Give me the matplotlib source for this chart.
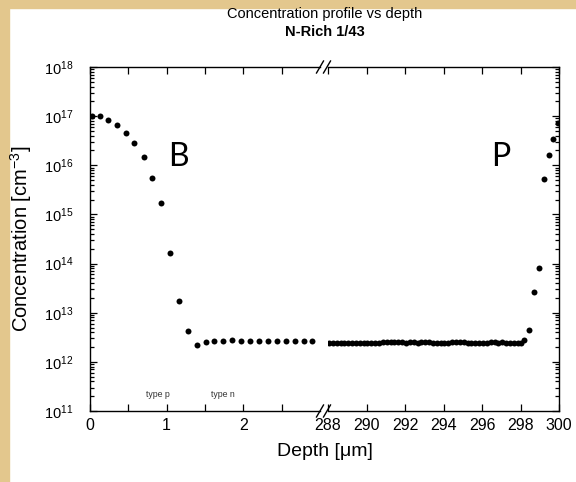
import matplotlib
matplotlib.use("Agg")
import matplotlib.pyplot as plt
from matplotlib.lines import Line2D
from matplotlib.patches import Rectangle
from matplotlib.ticker import LogLocator, NullFormatter, MultipleLocator, FixedLocator

plt.rcParams['font.family'] = ['Liberation Sans', 'DejaVu Sans']
plt.rcParams['mathtext.fontset'] = 'custom'
plt.rcParams['mathtext.rm'] = 'Liberation Sans'
plt.rcParams['mathtext.it'] = 'Liberation Sans:italic'
plt.rcParams['mathtext.bf'] = 'Liberation Sans:bold'

# boron side (front surface), depth in um, concentration in cm^-3
depth_b = [0.02, 0.13, 0.235, 0.35, 0.47, 0.58, 0.70, 0.81, 0.93, 1.047,
           1.16, 1.28, 1.39, 1.51, 1.62, 1.74, 1.855, 1.97, 2.09, 2.20,
           2.32, 2.44, 2.555, 2.67, 2.79, 2.90]
conc_b = [1.0e17, 1.0e17, 8.3e16, 6.6e16, 4.5e16, 2.9e16, 1.5e16, 5.6e15, 1.7e15, 1.66e14,
          1.74e13, 4.3e12, 2.2e12, 2.5e12, 2.7e12, 2.7e12, 2.75e12, 2.7e12, 2.7e12, 2.6e12,
          2.6e12, 2.6e12, 2.6e12, 2.6e12, 2.7e12, 2.6e12]

# phosphorus side (back surface)
depth_p = [288.05, 288.25, 288.45, 288.65, 288.85, 289.05, 289.25, 289.45, 289.65, 289.85,
           290.05, 290.25, 290.45, 290.65, 290.85, 291.05, 291.25, 291.45, 291.65, 291.85,
           292.05, 292.25, 292.45, 292.65, 292.85, 293.05, 293.25, 293.45, 293.65, 293.85,
           294.05, 294.25, 294.45, 294.65, 294.85, 295.05, 295.25, 295.45, 295.65, 295.85,
           296.05, 296.25, 296.45, 296.65, 296.85, 297.05, 297.25, 297.45, 297.65, 297.85,
           298.05, 298.2, 298.44, 298.69, 298.95, 299.2, 299.46, 299.7, 299.93]
conc_p = [2.45e12, 2.45e12, 2.45e12, 2.45e12, 2.45e12, 2.42e12, 2.45e12, 2.42e12, 2.45e12, 2.42e12,
          2.45e12, 2.45e12, 2.45e12, 2.45e12, 2.48e12, 2.48e12, 2.5e12, 2.55e12, 2.5e12, 2.48e12,
          2.42e12, 2.5e12, 2.52e12, 2.42e12, 2.55e12, 2.55e12, 2.48e12, 2.45e12, 2.45e12, 2.45e12,
          2.42e12, 2.45e12, 2.52e12, 2.55e12, 2.52e12, 2.48e12, 2.45e12, 2.42e12, 2.42e12, 2.45e12,
          2.45e12, 2.45e12, 2.48e12, 2.5e12, 2.45e12, 2.48e12, 2.42e12, 2.42e12, 2.45e12, 2.42e12,
          2.42e12, 2.8e12, 4.5e12, 2.6e13, 8.0e13, 5.2e15, 1.6e16, 3.4e16, 7.4e16]

W, H = 576, 482
fig = plt.figure(figsize=(W / 100, H / 100), dpi=100, facecolor='white')

# parchment strip on top and left edges
fig.add_artist(Rectangle((0, 1 - 8 / H), 1, 8 / H, transform=fig.transFigure,
                         color='#e3c78d', zorder=-5))
fig.add_artist(Rectangle((0, 0), 9 / W, 1, transform=fig.transFigure,
                         color='#e3c78d', zorder=-5))

bot = (H - 411) / H
hgt = (411 - 67) / H
ax1 = fig.add_axes([90 / W, bot, (320 - 90) / W, hgt])
ax2 = fig.add_axes([328 / W, bot, (559 - 328) / W, hgt], sharey=ax1)

for ax in (ax1, ax2):
    ax.set_facecolor('none')
    ax.plot(depth_b if ax is ax1 else depth_p, conc_b if ax is ax1 else conc_p,
            'o', color='black', markersize=4.3, markeredgewidth=0)
    for s in ax.spines.values():
        s.set_linewidth(1.0)
    ax.tick_params(which='both', direction='in', width=0.9)
    ax.tick_params(which='major', length=5)
    ax.tick_params(which='minor', length=3)
    ax.tick_params(axis='x', pad=5, labelsize=11.5)

ax1.set_yscale('log')
ax1.set_ylim(1e11, 1e18)
ax1.yaxis.set_major_locator(LogLocator(base=10, numticks=10))
ax1.yaxis.set_minor_locator(LogLocator(base=10, subs=range(2, 10), numticks=20))
ax1.yaxis.set_minor_formatter(NullFormatter())
ax1.tick_params(axis='y', pad=12, labelsize=10.5)

ax1.set_xlim(0, 3.0)
ax1.xaxis.set_major_locator(FixedLocator([0, 1, 2]))
ax1.xaxis.set_minor_locator(FixedLocator([0.5, 1.5, 2.5]))
ax1.tick_params(axis='x', which='minor', length=5)
ax1.spines['right'].set_visible(False)
ax1.tick_params(which='both', top=True, right=False)

ax2.set_xlim(288, 300)
ax2.xaxis.set_major_locator(MultipleLocator(2))
ax2.spines['left'].set_visible(False)
ax2.tick_params(which='both', top=True, left=False, right=True, labelleft=False)

# axis break marks
for xp in (320, 327):
    for yp in (67, 411):
        fig.add_artist(Line2D([(xp - 3.5) / W, (xp + 3.5) / W],
                              [(H - yp - 6) / H, (H - yp + 6) / H],
                              transform=fig.transFigure, color='black', lw=1.0))

ax1.set_ylabel('Concentration [cm$^{-3}$]', fontsize=14.5, va='center')
ax1.yaxis.set_label_coords((21 - 90) / 230, 0.5)
fig.text((90 + 559) / 2 / W, (H - 452) / H, 'Depth [\u03bcm]', fontsize=14,
         ha='center', va='center')
fig.text((90 + 559) / 2 / W, (H - 14) / H, 'Concentration profile vs depth',
         fontsize=10.5, ha='center', va='center')
fig.text((90 + 559) / 2 / W, (H - 32) / H, 'N-Rich 1/43', fontsize=10.5,
         fontweight='bold', ha='center', va='center')

ax1.text(1.15, 1.5e16, 'B', fontsize=23, family=['Lato', 'DejaVu Sans'],
         ha='center', va='center')
ax2.text(297.0, 1.5e16, 'P', fontsize=23, family=['Lato', 'DejaVu Sans'],
         ha='center', va='center')
ax1.text(0.88, 2.2e11, 'type p', fontsize=6.3, color='#333333', ha='center', va='center')
ax1.text(1.73, 2.2e11, 'type n', fontsize=6.3, color='#333333', ha='center', va='center')

fig.savefig('out.png', dpi=100, facecolor='white')
